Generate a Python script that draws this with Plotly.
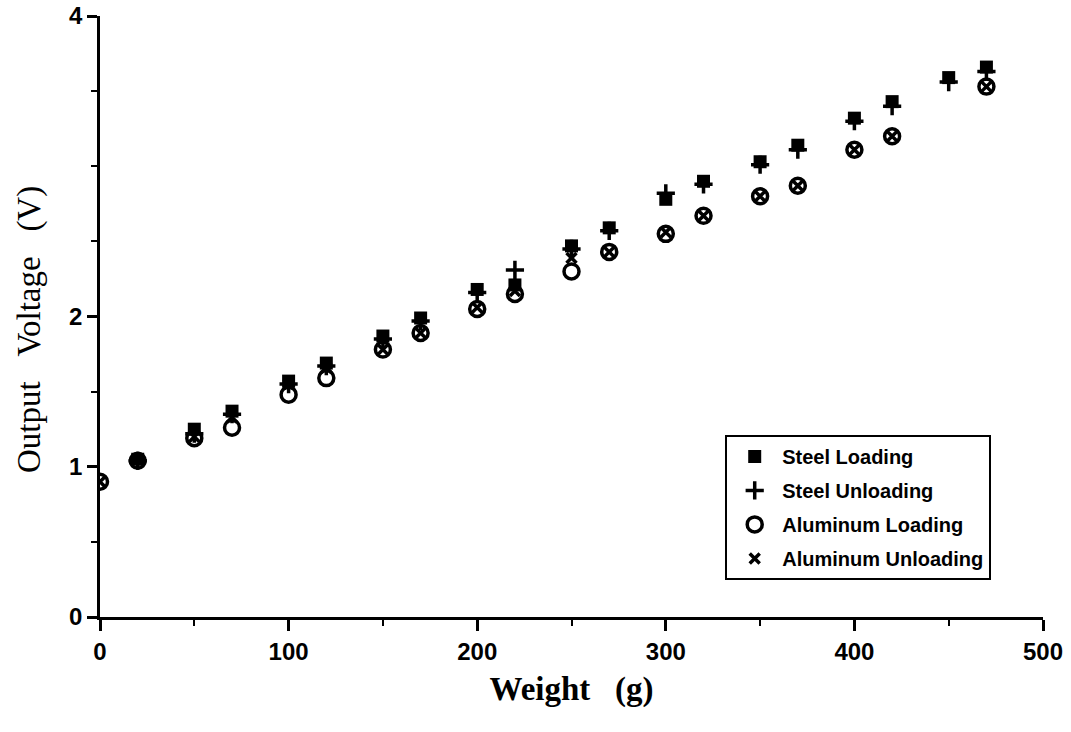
import plotly.graph_objects as go

# Load cell calibration: output voltage vs applied weight
steel_weight = [20, 50, 70, 100, 120, 150, 170, 200, 220, 250, 270, 300, 320, 350, 370, 400, 420, 450, 470]
steel_loading = [1.05, 1.25, 1.37, 1.57, 1.69, 1.87, 1.99, 2.18, 2.21, 2.47, 2.59, 2.78, 2.90, 3.03, 3.14, 3.32, 3.43, 3.59, 3.66]
steel_unloading = [1.04, 1.22, 1.35, 1.55, 1.67, 1.85, 1.97, 2.16, 2.31, 2.45, 2.57, 2.82, 2.88, 3.01, 3.11, 3.30, 3.40, 3.56, 3.63]

alu_weight = [0, 20, 50, 70, 100, 120, 150, 170, 200, 220, 250, 270, 300, 320, 350, 370, 400, 420, 470]
alu_loading = [0.90, 1.04, 1.19, 1.26, 1.48, 1.59, 1.78, 1.89, 2.05, 2.15, 2.30, 2.43, 2.55, 2.67, 2.80, 2.87, 3.11, 3.20, 3.53]
alu_unloading = [0.90, 1.05, 1.20, 1.33, 1.55, 1.66, 1.78, 1.89, 2.06, 2.17, 2.39, 2.43, 2.56, 2.67, 2.80, 2.87, 3.11, 3.20, 3.53]

x_ticks = [0, 100, 200, 300, 400, 500]
y_ticks = [0, 1, 2, 4]

INK = "black"
NB = "\u00a0"

fig = go.Figure()

fig.add_trace(go.Scatter(
    x=steel_weight, y=steel_loading, mode="markers", name="Steel Loading",
    legendgroup="a",
    marker=dict(symbol="square", size=13, color=INK, line=dict(width=0)),
))
fig.add_trace(go.Scatter(
    x=steel_weight, y=steel_unloading, mode="markers", name="Steel Unloading",
    legendgroup="b",
    marker=dict(symbol="cross-thin", size=13, color=INK, line=dict(width=3.5, color=INK)),
))
fig.add_trace(go.Scatter(
    x=alu_weight, y=alu_loading, mode="markers", name="Aluminum Loading",
    legendgroup="c",
    marker=dict(symbol="circle-open", size=15, color=INK, line=dict(width=3.5, color=INK)),
))
fig.add_trace(go.Scatter(
    x=alu_weight, y=alu_unloading, mode="markers", name="Aluminum Unloading",
    legendgroup="d",
    marker=dict(symbol="x-thin", size=10, color=INK, line=dict(width=3.5, color=INK)),
))

tick_font = dict(family="Liberation Sans, Arial, sans-serif", size=24, color=INK, weight="bold")
title_font = dict(family="Liberation Serif, Times New Roman, serif", size=33, color=INK)

fig.update_layout(
    width=1071, height=732,
    margin=dict(l=100, r=28, t=16, b=115),
    paper_bgcolor="white", plot_bgcolor="white",
    showlegend=True,
    legend=dict(
        x=0.663, y=0.303, xanchor="left", yanchor="top",
        bordercolor=INK, borderwidth=2, bgcolor="white",
        font=dict(family="Liberation Sans, Arial, sans-serif", size=20, color=INK, weight="bold"),
        tracegroupgap=5, itemwidth=45,
    ),
    xaxis=dict(
        range=[0, 500], tickvals=x_ticks, ticks="outside", ticklen=11, tickwidth=2.5,
        tickcolor=INK, showline=True, linecolor=INK, linewidth=2.5, showgrid=False,
        zeroline=False, tickfont=tick_font, automargin=False,
        minor=dict(dtick=50, ticks="outside", ticklen=6, tickwidth=2, tickcolor=INK),
        title=dict(text=f"Weight{NB*3}(g)", standoff=14,
                   font=dict(title_font, weight="bold")),
    ),
    yaxis=dict(
        range=[0, 4], tickvals=y_ticks, ticks="outside", ticklen=10, tickwidth=2.5,
        tickcolor=INK, showline=True, linecolor=INK, linewidth=2.5, showgrid=False,
        zeroline=False, tickfont=tick_font, automargin=False,
        minor=dict(dtick=0.5, ticks="outside", ticklen=6, tickwidth=2, tickcolor=INK),
    ),
    annotations=[dict(
        text=f"Output{NB*3}Voltage{NB*3}(V)", textangle=-90,
        xref="paper", yref="paper", x=-0.075, y=0.478,
        xanchor="center", yanchor="middle", showarrow=False, font=title_font,
    )],
)

fig.write_html("out.html")
